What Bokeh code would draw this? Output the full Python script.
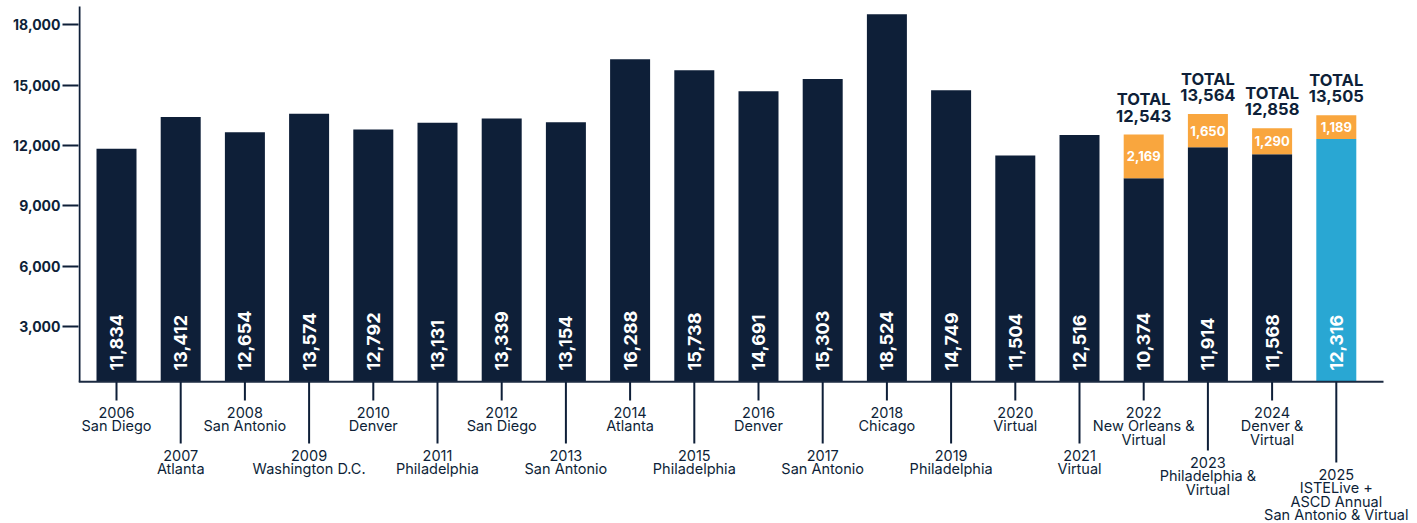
import math
from bokeh.plotting import figure
from bokeh.models import FixedTicker, NumeralTickFormatter, Range1d
from bokeh.core.properties import value
from bokeh.embed import file_html
from bokeh.resources import INLINE

# ---------------- data ----------------
years = ["2006", "2007", "2008", "2009", "2010", "2011", "2012", "2013", "2014", "2015",
         "2016", "2017", "2018", "2019", "2020", "2021", "2022", "2023", "2024", "2025"]
locations = ["San Diego", "Atlanta", "San Antonio", "Washington D.C.", "Denver",
             "Philadelphia", "San Diego", "San Antonio", "Atlanta", "Philadelphia",
             "Denver", "San Antonio", "Chicago", "Philadelphia", "Virtual", "Virtual",
             "New Orleans &\nVirtual", "Philadelphia &\nVirtual", "Denver &\nVirtual",
             "ISTELive +\nASCD Annual\nSan Antonio & Virtual"]
attendance = [11834, 13412, 12654, 13574, 12792, 13131, 13339, 13154, 16288, 15738,
              14691, 15303, 18524, 14749, 11504, 12516, 10374, 11914, 11568, 12316]
virtual_years = ["2022", "2023", "2024", "2025"]
virtual_extra = [2169, 1650, 1290, 1189]
y_ticks = [3000, 6000, 9000, 12000, 15000, 18000]

# ---------------- styles ----------------
NAVY = "#0e1f38"
ORANGE = "#f9a63e"
BLUE = "#29a7d3"
FONT = "Inter"

W, H = 1414, 523
BORDER_L = 78
PAGE_LEFT = 0
PAGE_TOP = 0
FRAME_LEFT_PAGE = PAGE_LEFT + BORDER_L
PX_PER_UNIT = 0.020113           # vertical scale
ZERO_PAGE_Y = 386.3              # page y of value 0
PX_PER_CAT = 64.2                # horizontal pitch
FIRST_CENTER_PAGE_X = 116


def y_at(py):
    return (ZERO_PAGE_Y - py) / PX_PER_UNIT


x_start = (FRAME_LEFT_PAGE - FIRST_CENTER_PAGE_X) / PX_PER_CAT
x_end = x_start + (W - BORDER_L) / PX_PER_CAT


def x_at(px):
    return x_start + (px - FRAME_LEFT_PAGE) / PX_PER_CAT


y_end = y_at(PAGE_TOP)
y_start = y_at(PAGE_TOP + H)
base = y_at(381.3)

p = figure(width=W, height=H, output_backend="svg", toolbar_location=None,
           x_range=Range1d(x_start, x_end), y_range=Range1d(y_start, y_end),
           min_border_left=BORDER_L, min_border_right=0, min_border_top=0,
           min_border_bottom=0)
p.outline_line_color = None
p.grid.visible = False
p.xaxis.visible = False

yax = p.yaxis[0]
yax.ticker = FixedTicker(ticks=y_ticks)
yax.formatter = NumeralTickFormatter(format="0,0")
yax.axis_line_color = None
yax.major_tick_in = 0
yax.major_tick_out = 16
yax.major_tick_line_color = NAVY
yax.major_tick_line_width = 2
yax.minor_tick_line_color = None
yax.major_label_standoff = 2
yax.major_label_text_font = FONT
yax.major_label_text_font_style = "bold"
yax.major_label_text_font_size = "14px"
yax.major_label_text_color = NAVY

idx = list(range(len(years)))
bar_w = 40 / PX_PER_CAT
bar_colors = [NAVY] * (len(years) - 1) + [BLUE]

# vertical axis line
p.segment(x0=[x_at(79)], y0=[base], x1=[x_at(79)], y1=[y_at(6)], line_color=NAVY, line_width=2)

# bars
p.vbar(x=idx, width=bar_w, bottom=base, top=attendance, fill_color=bar_colors, line_color=None)

v_idx = [years.index(y) for y in virtual_years]
v_bottom = [attendance[i] for i in v_idx]
v_top = [b + v for b, v in zip(v_bottom, virtual_extra)]
p.vbar(x=v_idx, width=bar_w, bottom=v_bottom, top=v_top, fill_color=ORANGE, line_color=None)

# horizontal axis line
p.segment(x0=[x_at(78)], y0=[base], x1=[x_at(1383)], y1=[base], line_color="#1b2a41", line_width=2)

# rotated in-bar labels
p.text(x=idx, y=[y_at(370)] * len(idx), text=[f"{v:,}" for v in attendance],
       angle=math.pi / 2, text_align="left", text_baseline="middle",
       text_color="white", text_font=value(FONT), text_font_style="bold",
       text_font_size="18px")

# virtual labels
p.text(x=v_idx, y=[(b + t) / 2 for b, t in zip(v_bottom, v_top)],
       text=[f"{v:,}" for v in virtual_extra], text_align="center", text_baseline="middle",
       text_color="white", text_font=value(FONT), text_font_style="bold",
       text_font_size="13px")

# totals
p.text(x=v_idx, y=[t + 9 / PX_PER_UNIT for t in v_top],
       text=[f"TOTAL\n{t:,}" for t in v_top], text_align="center", text_baseline="bottom",
       text_color=NAVY, text_font=value(FONT), text_font_style="bold",
       text_font_size="16.5px", text_line_height=0.82)

# category ticks and labels
labels = [f"{y}\n{loc}" for y, loc in zip(years, locations)]
nlines = [lab.count("\n") + 1 for lab in labels]
tick_end_px = []
for i in idx:
    e = 400 if i % 2 == 0 else 443
    if i % 2 == 1 and i > 0 and nlines[i - 1] >= 3:
        e += 7
    if nlines[i] >= 4:
        e += 12
    tick_end_px.append(e)

p.segment(x0=idx, y0=[base] * len(idx), x1=idx, y1=[y_at(e) for e in tick_end_px],
          line_color=NAVY, line_width=2)
p.text(x=idx, y=[y_at(e + 3) for e in tick_end_px], text=labels,
       text_align="center", text_baseline="top", text_color=NAVY,
       text_font=value(FONT), text_font_style="normal", text_font_size="14.5px",
       text_line_height=0.8)

open("out.html", "w").write(file_html(p, INLINE))
